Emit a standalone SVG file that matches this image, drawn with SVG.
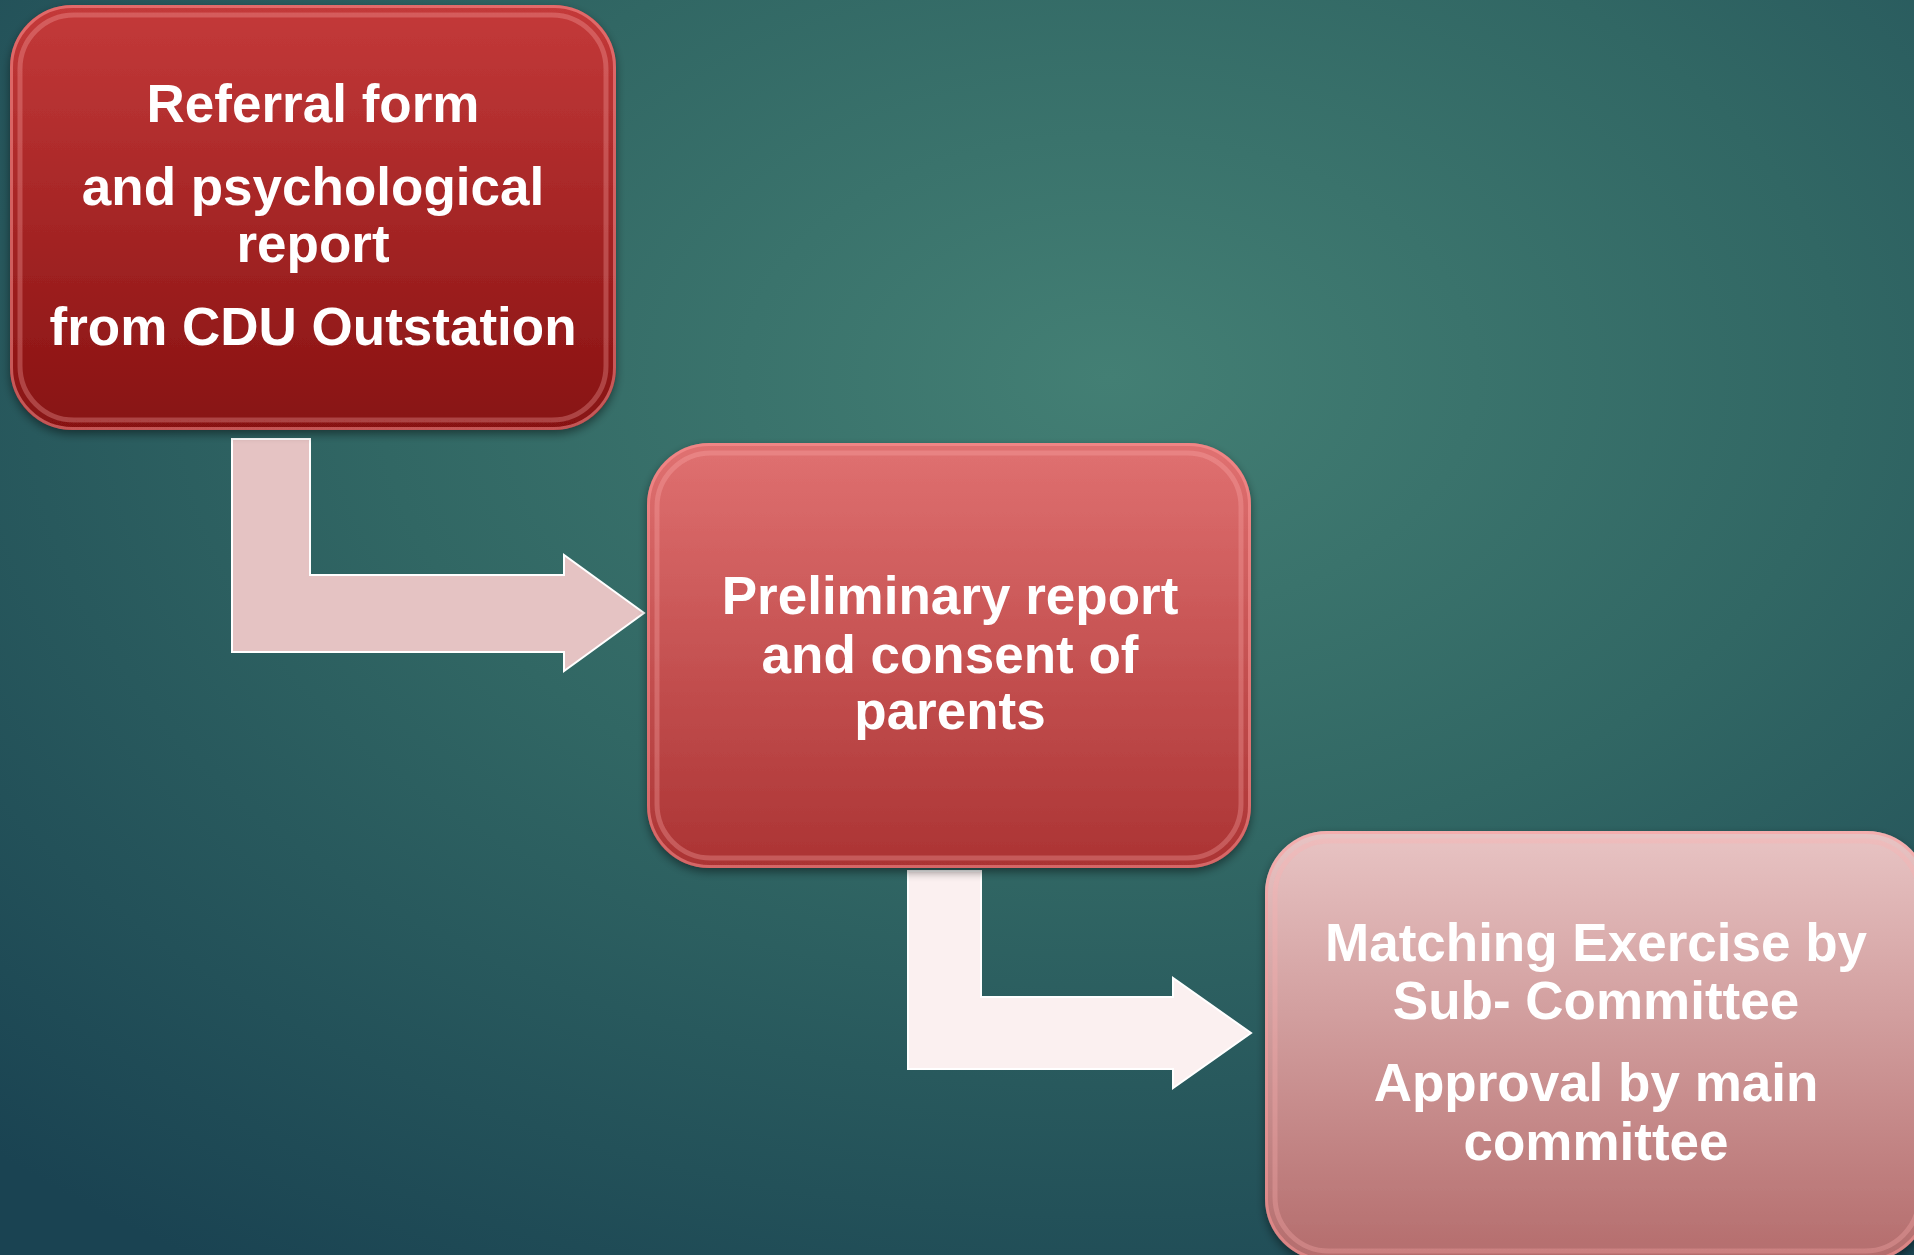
<svg xmlns="http://www.w3.org/2000/svg" width="1914" height="1255" viewBox="0 0 1914 1255">
<defs>
<radialGradient id="bg" cx="0.58" cy="0.3" r="0.85" fx="0.58" fy="0.3">
<stop offset="0" stop-color="#437f74"/>
<stop offset="0.45" stop-color="#316764"/>
<stop offset="1" stop-color="#1a4352"/>
</radialGradient>
<linearGradient id="g1" x1="0" y1="0" x2="0" y2="1">
<stop offset="0" stop-color="#c43a3a"/>
<stop offset="1" stop-color="#871111"/>
</linearGradient>
<linearGradient id="g2" x1="0" y1="0" x2="0" y2="1">
<stop offset="0" stop-color="#e07171"/>
<stop offset="1" stop-color="#ab3333"/>
</linearGradient>
<linearGradient id="g3" x1="0" y1="0" x2="0" y2="1">
<stop offset="0" stop-color="#e8c4c4"/>
<stop offset="1" stop-color="#b46c6c"/>
</linearGradient>
<filter id="sh" x="-10%" y="-10%" width="120%" height="120%">
<feGaussianBlur in="SourceAlpha" stdDeviation="5"/>
<feOffset dx="0" dy="4" result="b"/>
<feFlood flood-color="#000" flood-opacity="0.45"/>
<feComposite in2="b" operator="in"/>
<feMerge><feMergeNode/><feMergeNode in="SourceGraphic"/></feMerge>
</filter>
<style>
.t{font-family:"Liberation Sans",Arial,sans-serif;font-weight:bold;font-size:53px;fill:#ffffff;text-anchor:middle}
.rim{fill:none;stroke:#ffb0b0;stroke-opacity:0.3;stroke-width:5}
.edge{fill:none;stroke:#ff9a9a;stroke-opacity:0.5;stroke-width:3}
.arr{stroke:#ffffff;stroke-width:2}
</style>
</defs>
<rect x="0" y="0" width="1914" height="1255" fill="url(#bg)"/>
<g id="connectors">
<path class="arr" fill="#e5c3c3" d="M232,439 H310 V575 H564 V555 L644,613 L564,671 V652 H232 Z"/>
<path class="arr" fill="#fbf0f0" d="M908,871 H981 V997 H1173 V978 L1251,1033 L1173,1088 V1069 H908 Z"/>
</g>
<g id="node1">
<rect x="10" y="5" width="606" height="425" rx="62" fill="url(#g1)" filter="url(#sh)"/>
<rect class="rim" x="20" y="15" width="586" height="405" rx="54"/>
<rect class="edge" x="11.5" y="6.5" width="603" height="422" rx="61"/>
<text class="t" x="313" y="122">Referral form</text>
<text class="t" x="313" y="205">and psychological</text>
<text class="t" x="313" y="262">report</text>
<text class="t" x="313" y="345">from CDU Outstation</text>
</g>
<g id="node2">
<rect x="647" y="443" width="604" height="425" rx="62" fill="url(#g2)" filter="url(#sh)"/>
<rect class="rim" x="657" y="453" width="584" height="405" rx="54"/>
<rect class="edge" x="648.5" y="444.5" width="601" height="422" rx="61"/>
<text class="t" x="950" y="614">Preliminary report</text>
<text class="t" x="950" y="673">and consent of</text>
<text class="t" x="950" y="729">parents</text>
</g>
<g id="node3">
<rect x="1265" y="831" width="664" height="430" rx="62" fill="url(#g3)" filter="url(#sh)"/>
<rect class="rim" x="1275" y="841" width="644" height="410" rx="54"/>
<rect class="edge" x="1266.5" y="832.5" width="661" height="427" rx="61"/>
<text class="t" x="1596" y="961">Matching Exercise by</text>
<text class="t" x="1596" y="1019">Sub- Committee</text>
<text class="t" x="1596" y="1101">Approval by main</text>
<text class="t" x="1596" y="1160">committee</text>
</g>
</svg>
